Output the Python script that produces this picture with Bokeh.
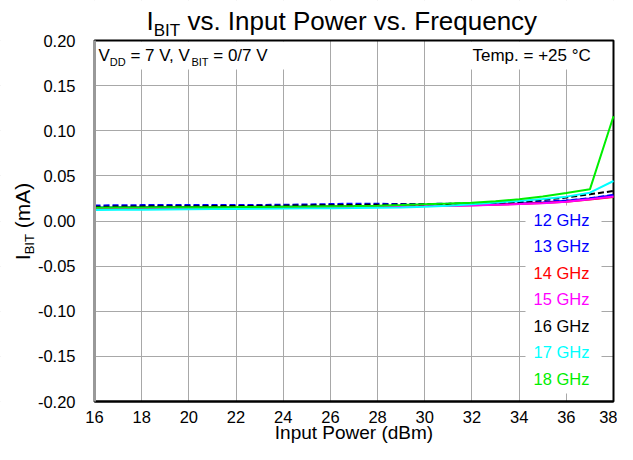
import math
from bokeh.plotting import figure
from bokeh.models import Range1d, FixedTicker, PrintfTickFormatter, Label, BoxAnnotation
from bokeh.embed import file_html
from bokeh.resources import INLINE

# ---------------- data ----------------
input_power = list(range(16, 39))
freq_labels = ["12 GHz", "13 GHz", "14 GHz", "15 GHz", "16 GHz", "17 GHz", "18 GHz"]
i_12 = [0.0150, 0.0151, 0.0153, 0.0154, 0.0155, 0.0156, 0.0156, 0.0157, 0.0158, 0.0160, 0.0162, 0.0163,
        0.0165, 0.0167, 0.0170, 0.0173, 0.0178, 0.0185, 0.0193, 0.0205, 0.0225, 0.0250, 0.0285]
i_13 = [0.0172, 0.0174, 0.0176, 0.0177, 0.0177, 0.0176, 0.0176, 0.0178, 0.0180, 0.0183, 0.0188, 0.0192,
        0.0190, 0.0189, 0.0189, 0.0191, 0.0194, 0.0198, 0.0205, 0.0214, 0.0228, 0.0252, 0.0290]
i_14 = [0.0143, 0.0145, 0.0147, 0.0148, 0.0149, 0.0150, 0.0151, 0.0153, 0.0155, 0.0157, 0.0160, 0.0162,
        0.0164, 0.0166, 0.0168, 0.0171, 0.0175, 0.0181, 0.0189, 0.0199, 0.0214, 0.0238, 0.0266]
i_15 = [0.0138, 0.0140, 0.0142, 0.0143, 0.0145, 0.0146, 0.0147, 0.0149, 0.0151, 0.0153, 0.0156, 0.0158,
        0.0160, 0.0162, 0.0165, 0.0168, 0.0173, 0.0179, 0.0187, 0.0197, 0.0212, 0.0240, 0.0272]
i_16 = [0.0158, 0.0160, 0.0162, 0.0163, 0.0164, 0.0165, 0.0166, 0.0168, 0.0170, 0.0172, 0.0175, 0.0178,
        0.0180, 0.0182, 0.0185, 0.0189, 0.0195, 0.0203, 0.0213, 0.0235, 0.0260, 0.0296, 0.0333]
i_17 = [0.0122, 0.0124, 0.0126, 0.0128, 0.0130, 0.0132, 0.0134, 0.0136, 0.0138, 0.0140, 0.0142, 0.0144,
        0.0147, 0.0150, 0.0158, 0.0170, 0.0185, 0.0205, 0.0222, 0.0243, 0.0270, 0.0314, 0.0443]
i_18 = [0.0148, 0.0149, 0.0150, 0.0151, 0.0152, 0.0153, 0.0154, 0.0156, 0.0158, 0.0160, 0.0163, 0.0166,
        0.0170, 0.0176, 0.0185, 0.0193, 0.0203, 0.0220, 0.0240, 0.0272, 0.0310, 0.0351, 0.1160]
series = [i_12, i_13, i_14, i_15, i_16, i_17, i_18]
colors = ["#0000ff", "#0000ff", "#ff0000", "#ff00ff", "#000000", "#00ffff", "#00ee00"]
dashes = ["solid", "6 3", "solid", "solid", "6 3", "solid", "solid"]
x_ticks = list(range(16, 39, 2))
y_ticks = [-0.20, -0.15, -0.10, -0.05, 0.0, 0.05, 0.10, 0.15, 0.20]

# ---------------- layout (canvas px) ----------------
W, H = 617, 444
X0, X1, Y0, Y1 = 16, 38, -0.20, 0.20
FL, FR, FT, FB = 94, 613, 40, 401          # plot box in canvas px
FONT = "Liberation Sans"
BASE_FIX = 0.35                             # measured shift of the alphabetic baseline (em)
KX = (X1 - X0) / (FR - FL)
KY = (Y1 - Y0) / (FB - FT)
XS, XE = X0 - FL * KX, X1 + (W - FR) * KX
YS, YE = Y0 - (H - FB) * KY, Y1 + FT * KY


def dx(sx):
    return X0 + (sx - FL) * KX


def dy(sy):
    return Y1 - (sy - FT) * KY


AW = {' ': 278, '(': 333, ')': 333, '+': 584, ',': 278, '-': 333, '.': 278, '/': 278, '=': 584,
      'A': 667, 'B': 667, 'C': 722, 'D': 722, 'F': 611, 'G': 778, 'H': 722, 'I': 278, 'P': 667,
      'T': 611, 'V': 667, 'M': 833, 'a': 556, 'b': 556, 'c': 500, 'd': 556, 'e': 556, 'm': 833,
      'n': 556, 'o': 556, 'p': 556, 'q': 556, 'r': 333, 's': 500, 't': 278, 'u': 556, 'v': 500,
      'w': 722, 'y': 500, 'z': 500, '°': 400}


def tw(s, size):
    return sum(AW.get(c, 556) for c in s) / 1000.0 * size


p = figure(width=W, height=H, output_backend="svg", toolbar_location=None, title=None,
           x_range=Range1d(XS, XE), y_range=Range1d(YS, YE),
           min_border_left=0, min_border_right=0, min_border_top=0, min_border_bottom=0)
p.outline_line_color = None
p.background_fill_color = "white"
p.border_fill_color = "white"

p.xaxis.ticker = FixedTicker(ticks=x_ticks)
p.yaxis.ticker = FixedTicker(ticks=y_ticks)
p.yaxis.formatter = PrintfTickFormatter(format="%.2f")
p.xaxis.fixed_location = Y0
p.yaxis.fixed_location = X0
p.xaxis.bounds = (X0, X1)
p.yaxis.bounds = (Y0, Y1)
for ax in (p.xaxis, p.yaxis):
    ax.major_tick_out = 0
    ax.major_tick_in = 0
    ax.minor_tick_out = 0
    ax.minor_tick_in = 0
    ax.major_label_text_font = FONT
    ax.major_label_text_font_size = "16.5px"
    ax.major_label_text_color = "black"
p.xaxis.major_label_standoff = 9
p.yaxis.major_label_standoff = 19
p.xaxis.axis_line_color = "black"
p.xaxis.axis_line_width = 2
p.yaxis.axis_line_color = "#999999"
p.yaxis.axis_line_width = 3

p.xgrid.ticker = FixedTicker(ticks=x_ticks)
p.ygrid.ticker = FixedTicker(ticks=y_ticks)
for g in (p.xgrid, p.ygrid):
    g.grid_line_color = "#a8a8a8"
    g.grid_line_width = 1


def box(l, r, t, b, **kw):
    opts = dict(fill_color="white", fill_alpha=1, line_alpha=0, level="underlay")
    opts.update(kw)
    p.add_layout(BoxAnnotation(left=l, right=r, top=t, bottom=b, **opts))


# hide grid outside the plot box
box(XS - 1, X0, YE + 1, YS - 1)
box(X1, XE + 1, YE + 1, YS - 1)
box(XS - 1, XE + 1, YE + 1, Y1)
box(XS - 1, XE + 1, Y0, YS - 1)
# annotation backgrounds inside the plot box
box(dx(FL + 1), dx(286), dy(FT + 1), dy(69))
box(dx(462), dx(FR - 1), dy(FT + 1), dy(69))
box(dx(525), dx(601), dy(205), dy(393))
# plot box outline
box(X0, X1, Y1, Y0, fill_alpha=0, line_alpha=1, line_color="black", line_width=2)


def seg_text(segs, sx, sy, angle=0.0):
    cur = 0.0
    for txt, size, off, color in segs:
        core = txt.strip(' ')
        cur += tw(' ' * (len(txt) - len(txt.lstrip(' '))), size)
        fix = BASE_FIX * size
        if angle == 0:
            x, y = sx + cur, sy + off - fix
        else:
            x, y = sx + off - fix, sy - cur
        p.add_layout(Label(x=dx(x), y=dy(y), text=core, angle=angle, text_font=FONT,
                           text_font_size=f"{size}px", text_color=color,
                           text_align="left", text_baseline="alphabetic"))
        cur += tw(core, size)
        cur += tw(' ' * (len(txt) - len(txt.rstrip(' '))), size)
    return cur


# lines
for ys, c, d in zip(series, colors, dashes):
    p.line(input_power, ys, line_color=c, line_width=2, line_dash=d)

# title
T, TS = 26, 17
seg_text([("I", T, 0, "black"), ("BIT", TS, 6, "black"),
          (" vs. Input Power vs. Frequency", T, 0, "black")], 146, 30)

# annotations
A, S = 17, 11
seg_text([("V", A, 0, "black"), ("DD", S, 4, "black"), (" = 7 V, V", A, 0, "black"),
          ("BIT", S, 4, "black"), (" = 0/7 V", A, 0, "black")], 98, 61)
seg_text([("Temp. = +25 °C", A, 0, "black")], 472, 61)

# legend
for i, (lab, c) in enumerate(zip(freq_labels, colors)):
    seg_text([(lab, 16.5, 0, c)], 533, 225 + 26.5 * i)

# axis titles
XT = 19
xt = "Input Power (dBm)"
seg_text([(xt, XT, 0, "black")], (FL + FR) / 2 - tw(xt, XT) / 2, 439)
YT, YSUB = 21, 13
ylen = tw("I", YT) + tw("BIT", YSUB) + tw(" (mA)", YT)
seg_text([("I", YT, 0, "black"), ("BIT", YSUB, 5, "black"), (" (mA)", YT, 0, "black")],
         29, 221 + ylen / 2, angle=math.pi / 2)

open("out.html", "w").write(file_html(p, INLINE))
